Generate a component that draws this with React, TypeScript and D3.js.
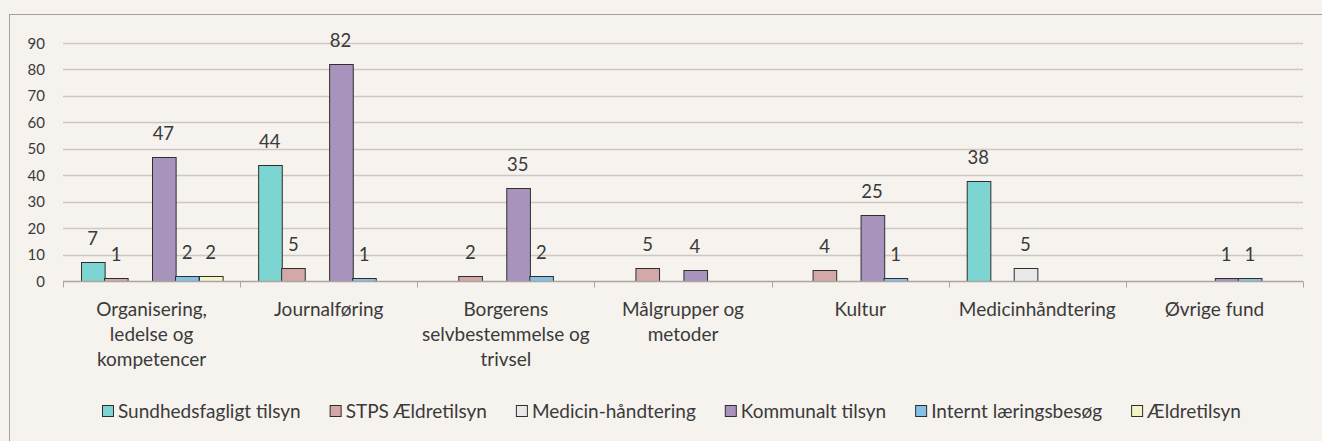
import * as d3 from "d3";
import { useEffect, useRef } from "react";

const categories = [
  "Organisering, ledelse og kompetencer",
  "Journalføring",
  "Borgerens selvbestemmelse og trivsel",
  "Målgrupper og metoder",
  "Kultur",
  "Medicinhåndtering",
  "Øvrige fund",
];
const categoryLines = [
  ["Organisering,", "ledelse og", "kompetencer"],
  ["Journalføring"],
  ["Borgerens", "selvbestemmelse og", "trivsel"],
  ["Målgrupper og", "metoder"],
  ["Kultur"],
  ["Medicinhåndtering"],
  ["Øvrige fund"],
];

const seriesNames = [
  "Sundhedsfagligt tilsyn",
  "STPS Ældretilsyn",
  "Medicin-håndtering",
  "Kommunalt tilsyn",
  "Internt læringsbesøg",
  "Ældretilsyn",
];
const seriesColors = ["#7dd5d2", "#d3a9a8", "#e9e9e9", "#a893bd", "#84c1e7", "#f2f4c6"];

// one array per series, in category order (0 = no bar)
const sundhedsfagligt = [7, 44, 0, 0, 0, 38, 0];
const stpsAeldre = [1, 5, 2, 5, 4, 0, 0];
const medicinHaandtering = [0, 0, 0, 0, 0, 5, 0];
const kommunalt = [47, 82, 35, 4, 25, 0, 1];
const interntLaering = [2, 1, 2, 0, 1, 0, 1];
const aeldretilsyn = [2, 0, 0, 0, 0, 0, 0];
const seriesValues = [
  sundhedsfagligt,
  stpsAeldre,
  medicinHaandtering,
  kommunalt,
  interntLaering,
  aeldretilsyn,
];
const yTicks = [0, 10, 20, 30, 40, 50, 60, 70, 80, 90];

const width = 1322;
const height = 441;
const plot = { left: 63, right: 1303, top: 43, bottom: 281 };
const font = "Lato, 'Open Sans', sans-serif";
const textColor = "#3a3a3a";

export default function App() {
  const svgRef = useRef<SVGSVGElement>(null);

  useEffect(() => {
    if (!svgRef.current) return;
    drawChart(svgRef.current);
  }, []);

  return (
    <div style={{ position: "absolute", left: 0, top: 0, width, height, background: "#f6f2ee" }}>
      <svg ref={svgRef} width={width} height={height} style={{ display: "block" }} />
    </div>
  );
}

function drawChart(svgElement: SVGSVGElement) {
  const svg = d3.select(svgElement);
  svg.selectAll("*").remove();

  svg
    .append("rect")
    .attr("width", width)
    .attr("height", height)
    .attr("fill", "#f6f2ee");

  // chart frame
  svg
    .append("rect")
    .attr("x", 9.5)
    .attr("y", 14.5)
    .attr("width", width + 20)
    .attr("height", height + 20)
    .attr("fill", "none")
    .attr("stroke", "#a7a29f")
    .attr("stroke-width", 1);

  const x0 = d3.scaleBand<string>().domain(categories).range([plot.left, plot.right]);
  const x1 = d3
    .scaleBand<string>()
    .domain(seriesNames)
    .range([0, x0.bandwidth()])
    .paddingInner(0)
    .paddingOuter(0.75);
  const y = d3.scaleLinear().domain([0, 90]).range([plot.bottom, plot.top]);

  // gridlines
  svg
    .append("g")
    .selectAll("line")
    .data(yTicks.filter((t) => t > 0))
    .join("line")
    .attr("x1", plot.left)
    .attr("x2", plot.right)
    .attr("y1", (d) => Math.round(y(d)) + 0.5)
    .attr("y2", (d) => Math.round(y(d)) + 0.5)
    .attr("stroke", "#cdc8c4")
    .attr("stroke-width", 1.3);

  // y labels
  svg
    .append("g")
    .selectAll("text")
    .data(yTicks)
    .join("text")
    .attr("x", 45)
    .attr("y", (d) => y(d) + 5.5)
    .attr("text-anchor", "end")
    .attr("fill", textColor)
    .style("font-family", font)
    .style("font-size", "15px")
    .text((d) => d);

  // bars
  const groups = svg
    .append("g")
    .selectAll("g")
    .data(categories)
    .join("g")
    .attr("transform", (c) => `translate(${x0(c)},0)`);

  type Cell = { series: string; si: number; value: number };
  const cells = (ci: number): Cell[] =>
    seriesNames
      .map((series, si) => ({ series, si, value: seriesValues[si][ci] }))
      .filter((d) => d.value > 0);

  groups
    .selectAll("rect")
    .data((_, ci) => cells(ci))
    .join("rect")
    .attr("x", (d) => Math.round(x1(d.series)!) + 0.5)
    .attr("y", (d) => Math.round(y(d.value)) + 0.5)
    .attr("width", x1.bandwidth())
    .attr("height", (d) => Math.round(y(0)) - Math.round(y(d.value)))
    .attr("fill", (d) => seriesColors[d.si])
    .attr("stroke", "#2e2e2e")
    .attr("stroke-width", 1);

  groups
    .selectAll("text")
    .data((_, ci) => cells(ci))
    .join("text")
    .attr("x", (d) => x1(d.series)! + x1.bandwidth() / 2)
    .attr("y", (d) => y(d.value) - 17)
    .attr("text-anchor", "middle")
    .attr("fill", textColor)
    .style("font-family", font)
    .style("font-size", "18.5px")
    .text((d) => d.value);

  // x axis line and ticks
  const axisY = Math.round(y(0)) + 0.5;
  svg
    .append("line")
    .attr("x1", plot.left)
    .attr("x2", plot.right)
    .attr("y1", axisY)
    .attr("y2", axisY)
    .attr("stroke", "#aaa5a1")
    .attr("stroke-width", 1.3);
  const boundaries = categories.map((c) => x0(c)!).concat([plot.right]);
  svg
    .append("g")
    .selectAll("line")
    .data(boundaries)
    .join("line")
    .attr("x1", (d) => Math.round(d) + 0.5)
    .attr("x2", (d) => Math.round(d) + 0.5)
    .attr("y1", axisY)
    .attr("y2", axisY + 6)
    .attr("stroke", "#aaa5a1");

  // category labels
  const catGroup = svg
    .append("g")
    .selectAll("text")
    .data(categories)
    .join("text")
    .attr("text-anchor", "middle")
    .attr("fill", textColor)
    .style("font-family", font)
    .style("font-size", "19px");
  catGroup
    .selectAll("tspan")
    .data((_, ci) => categoryLines[ci].map((line) => ({ line, ci })))
    .join("tspan")
    .attr("x", (d) => x0(categories[d.ci])! + x0.bandwidth() / 2)
    .attr("y", (_, li) => 315.5 + li * 25.3)
    .text((d) => d.line);

  // legend
  const legend = svg.append("g").attr("transform", "translate(102,411)");
  let cursor = 0;
  seriesNames.forEach((name, si) => {
    const item = legend.append("g").attr("transform", `translate(${cursor},0)`);
    item
      .append("rect")
      .attr("x", 0.5)
      .attr("y", -5.5)
      .attr("width", 11)
      .attr("height", 11)
      .attr("fill", seriesColors[si])
      .attr("stroke", "#2e2e2e");
    const label = item
      .append("text")
      .attr("x", 16)
      .attr("y", 6.5)
      .attr("fill", textColor)
      .style("font-family", font)
      .style("font-size", "19px")
      .text(name);
    const textWidth = (label.node() as SVGTextElement).getComputedTextLength();
    cursor += 16 + textWidth + 29;
  });
}
